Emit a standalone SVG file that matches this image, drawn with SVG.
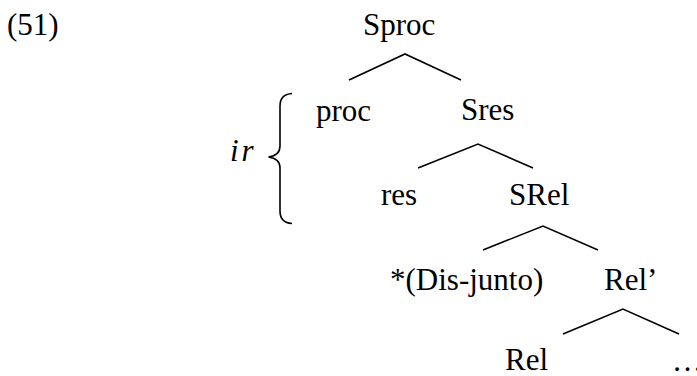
<svg xmlns="http://www.w3.org/2000/svg" width="697" height="376" viewBox="0 0 697 376">
<style>
.ln{stroke:#000;stroke-width:1.6;fill:none;stroke-linecap:butt}
</style>
<rect width="697" height="376" fill="#fff"/>
<g font-family="Times New Roman, Liberation Serif, Tinos, DejaVu Serif, serif" font-size="31" fill="#000">
<text x="7" y="35">(51)</text>
<g id="n-sproc"><text x="363" y="35">Sproc</text></g>
<g id="n-proc"><text x="316" y="121">proc</text></g>
<g id="n-sres"><text x="461" y="120">Sres</text></g>
<g id="n-res"><text x="381" y="205">res</text></g>
<g id="n-srel"><text x="509" y="205">SRel</text></g>
<g id="n-disjunto"><text x="390" y="290">*(Dis-junto)</text></g>
<g id="n-relbar"><text x="604" y="290">Rel’</text></g>
<g id="n-rel"><text x="505" y="370">Rel</text></g>
<g id="n-dots"><text x="672" y="371">…</text></g>
<g id="brace">
<text font-style="italic" x="230" y="161" letter-spacing="3">ir</text>
<path class="ln" d="M292,93.5 C284,94 280,98 280,106 L280,146 C280,152 276,156 268.5,157 C276,158 280,162 280,168 L280,211 C280,219 284,223 292,223.5"/>
</g>
</g>
<g id="connectors">
<polyline class="ln" points="349,80 405,54 461,80"/>
<polyline class="ln" points="418,168 478,144 533,168"/>
<polyline class="ln" points="483,250 543,226 598,250"/>
<polyline class="ln" points="563,334 623,309 679,334"/>
</g>
</svg>
